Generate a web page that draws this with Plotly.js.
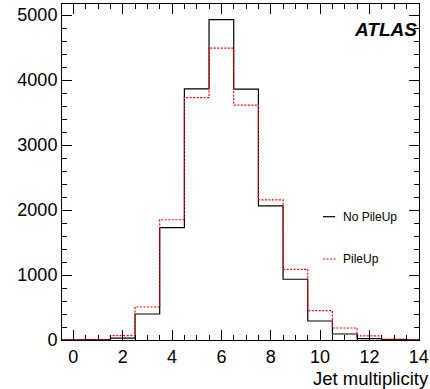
<!DOCTYPE html>
<html>
<head>
<meta charset="utf-8">
<script src="https://cdn.plot.ly/plotly-3.0.1.min.js"></script>
<style>html,body{margin:0;padding:0;background:#fff;}#chart{width:430px;height:389px;}</style>
</head>
<body>
<div id="chart"></div>
<script>
// Jet multiplicity bins (bin centres)
const jetMultiplicity = [0,1,2,3,4,5,6,7,8,9,10,11,12,13,14];
// Events per bin
const noPileUp = [3,5,30,400,1730,3865,4930,3860,2065,935,292,92,20,5,1];
const pileUp   = [3,5,66,508,1850,3730,4490,3615,2155,1088,451,185,62,15,3];
const seriesNames = ["No PileUp","PileUp"];
const xTickVals = [0,2,4,6,8,10,12,14];
const yTickVals = [0,1000,2000,3000,4000,5000];

// Build step outline from bin centres (edges at +-0.5)
function steps(centres, vals){
  const xs = [], ys = [];
  xs.push(centres[0]-0.5); ys.push(0);
  for (let i=0;i<centres.length;i++){ xs.push(centres[i]-0.5); ys.push(vals[i]); }
  xs.push(centres[centres.length-1]+0.5); ys.push(vals[vals.length-1]);
  return {xs, ys};
}
const s1 = steps(jetMultiplicity, noPileUp);
const s2 = steps(jetMultiplicity, pileUp);

const font = "Liberation Sans, Arial, Helvetica, sans-serif";
const data = [
  {x:s1.xs, y:s1.ys, type:'scatter', mode:'lines', name:seriesNames[0],
   line:{shape:'hv', color:'#000000', width:1.2}, showlegend:false, hoverinfo:'skip'},
  {x:s2.xs, y:s2.ys, type:'scatter', mode:'lines', name:seriesNames[1],
   line:{shape:'hv', color:'#ff0000', width:1.2, dash:'2px,1.5px'}, showlegend:false, hoverinfo:'skip'}
];

const axisCommon = {showline:true, linecolor:'#000', linewidth:1, mirror:'ticks',
  ticks:'inside', tickcolor:'#000', tickwidth:1, ticklen:10, showgrid:false, zeroline:false,
  tickfont:{family:font, size:18, color:'#000'}};

const layout = {
  width:430, height:389,
  margin:{l:62, r:11, t:4, b:49},
  paper_bgcolor:'#fff', plot_bgcolor:'#fff',
  font:{family:font, color:'#000'},
  xaxis:Object.assign({}, axisCommon, {range:[-0.46,14.01], tickmode:'array', tickvals:xTickVals,
    minor:{dtick:0.5, tick0:0, ticks:'inside', ticklen:5, tickcolor:'#000', tickwidth:1}}),
  yaxis:Object.assign({}, axisCommon, {range:[0,5170], tickmode:'array', tickvals:yTickVals,
    minor:{dtick:200, tick0:0, ticks:'inside', ticklen:5, tickcolor:'#000', tickwidth:1}}),
  shapes:[
    {type:'line', xref:'paper', yref:'paper', x0:0.731, x1:0.765, y0:0.367, y1:0.367, line:{color:'#000', width:1.2}},
    {type:'line', xref:'paper', yref:'paper', x0:0.731, x1:0.77, y0:0.241, y1:0.241, line:{color:'#ff0000', width:1.2, dash:'2px,1.5px'}}
  ],
  annotations:[
    {text:seriesNames[0], xref:'paper', yref:'paper', x:0.782, y:0.367, xanchor:'left', yanchor:'middle', showarrow:false, font:{family:font, size:12, color:'#000'}},
    {text:seriesNames[1], xref:'paper', yref:'paper', x:0.782, y:0.241, xanchor:'left', yanchor:'middle', showarrow:false, font:{family:font, size:12, color:'#000'}},
    {text:'<b><i>ATLAS</i></b>', xref:'paper', yref:'paper', x:1.0, y:0.923, xanchor:'right', yanchor:'middle', showarrow:false, font:{family:font, size:19, color:'#000'}},
    {text:'Jet multiplicity', xref:'paper', yref:'paper', x:1.03, y:-0.114, xanchor:'right', yanchor:'middle', showarrow:false, borderpad:0, font:{family:font, size:18.5, color:'#000'}}
  ]
};
Plotly.newPlot('chart', data, layout, {staticPlot:true, displayModeBar:false});
</script>
</body>
</html>
